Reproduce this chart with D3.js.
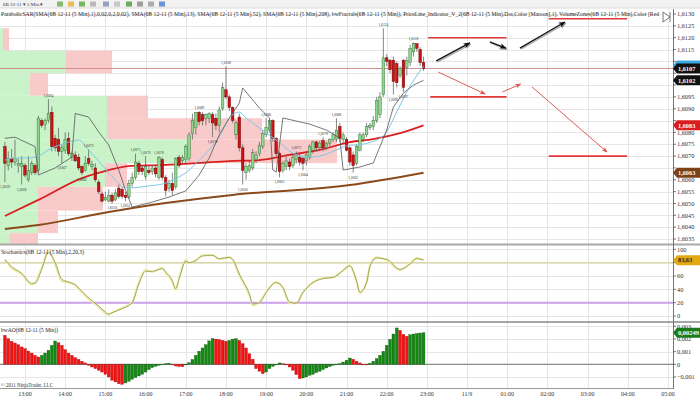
<!DOCTYPE html>
<html><head><meta charset="utf-8">
<script src="https://cdn.jsdelivr.net/npm/d3@7"></script>
<style>body{margin:0;background:#fff}svg{display:block}text{font-family:'Liberation Serif','Times New Roman',serif}</style>
</head><body><svg id="c" width="700" height="400"></svg>
<script>
// ---------- DATA ----------
const firstBar = "2011-11-08 12:30";
const barMinutes = 5;
const candleOpen = [1.6074,1.6066,1.6069,1.60675,1.6066,1.60655,1.6066,1.6060,1.6063,1.6066,
1.6064,1.6085,1.60835,1.6085,1.60885,1.60775,1.6077,1.6072,1.60725,1.60775,
1.60695,1.60705,1.60695,1.60655,1.6064,1.6069,1.60655,1.6065,1.6059,1.6054,
1.60515,1.6051,1.60535,1.60515,1.60565,1.6056,1.60535,1.60525,1.60585,1.6061,
1.6067,1.6065,1.60615,1.6064,1.60635,1.6065,1.6061,1.60685,1.6061,1.60565,
1.60585,1.6057,1.60695,1.6068,1.60685,1.6069,1.60795,1.6082,1.60885,1.60875,
1.6086,1.6086,1.60875,1.6086,1.6083,1.6090,1.6098,1.6095,1.60905,1.6079,
1.60865,1.60735,1.6063,1.6064,1.6065,1.60685,1.6071,1.6074,1.6079,1.6081,
1.6085,1.60775,1.6071,1.6064,1.60655,1.60675,1.6066,1.60685,1.60695,1.6069,
1.6068,1.60695,1.60725,1.6076,1.60735,1.60765,1.60735,1.60755,1.6077,1.6077,
1.60825,1.6077,1.6077,1.60735,1.60705,1.6067,1.60725,1.6077,1.6079,1.6082,
1.60825,1.6085,1.60875,1.6096,1.61115,1.61105,1.61105,1.6109,1.6104,1.61105,
1.61075,1.61095,1.6114,1.61175,1.6115,1.61095];
const candleHigh = [1.6076,1.6072,1.6073,1.6077,1.6069,1.6070,1.6067,1.6070,1.6068,1.6067,
1.6087,1.6086,1.6086,1.6094,1.6091,1.6079,1.6082,1.6075,1.6080,1.6080,
1.6072,1.6072,1.6071,1.6066,1.6070,1.6073,1.6068,1.6067,1.6060,1.6055,
1.6055,1.6056,1.60545,1.6056,1.6058,1.6057,1.6055,1.6060,1.6063,1.6071,
1.6068,1.6066,1.6070,1.6066,1.6066,1.6066,1.6070,1.60695,1.6062,1.6060,
1.6063,1.60695,1.60705,1.60705,1.6075,1.6080,1.6088,1.60885,1.6089,1.60885,
1.6088,1.60885,1.60885,1.6088,1.6091,1.6101,1.6108,1.6096,1.6091,1.6085,
1.6088,1.6075,1.6067,1.6068,1.6073,1.6072,1.6076,1.6081,1.6086,1.60855,
1.60855,1.6078,1.6072,1.6068,1.6070,1.6069,1.6071,1.6072,1.6071,1.6070,
1.60715,1.6075,1.60765,1.60765,1.60765,1.6078,1.6076,1.60775,1.6080,1.6086,
1.6084,1.6080,1.6078,1.6074,1.6072,1.6075,1.6080,1.6080,1.6084,1.6084,
1.6087,1.6095,1.6097,1.6124,1.6113,1.6111,1.6112,1.6110,1.6108,1.6111,
1.6112,1.6117,1.6118,1.61175,1.6116,1.6112];
const candleLow = [1.6059,1.6064,1.6065,1.6066,1.6063,1.6058,1.6061,1.6059,1.6062,1.6062,
1.6063,1.6082,1.6081,1.6084,1.6072,1.6072,1.6070,1.6067,1.6071,1.6070,
1.6068,1.60675,1.6064,1.6062,1.60635,1.6066,1.6064,1.6059,1.6054,1.60505,
1.6051,1.60505,1.6050,1.6051,1.6052,1.6052,1.6051,1.6052,1.6057,1.6060,
1.6062,1.6062,1.6060,1.6062,1.6062,1.6061,1.6060,1.6060,1.6053,1.6055,
1.60535,1.6056,1.6065,1.6067,1.6067,1.6068,1.6077,1.6079,1.6083,1.6083,
1.6083,1.6084,1.6078,1.6081,1.6080,1.6089,1.6094,1.6089,1.6084,1.6077,
1.6072,1.6058,1.6060,1.6063,1.6064,1.6067,1.6070,1.6073,1.6078,1.6080,
1.6076,1.6070,1.6061,1.6063,1.6064,1.6064,1.6065,1.6067,1.6066,1.6064,
1.6066,1.60685,1.6071,1.6072,1.60725,1.6072,1.60725,1.6074,1.6076,1.6076,
1.6076,1.60755,1.6072,1.6066,1.6063,1.6066,1.6072,1.6076,1.6078,1.6081,
1.6081,1.6084,1.6086,1.6095,1.6108,1.6105,1.6096,1.6099,1.6103,1.6097,
1.6104,1.6108,1.6112,1.6114,1.6108,1.6106];
const candleClose = [1.6067,1.6069,1.60675,1.6069,1.6067,1.6067,1.6062,1.6064,1.6067,1.6063,
1.6086,1.6083,1.6085,1.6088,1.6074,1.60735,1.6072,1.60735,1.6077,1.6071,
1.6071,1.6068,1.6065,1.6063,1.6067,1.6067,1.60665,1.6060,1.6055,1.6051,
1.60525,1.60535,1.6051,1.60545,1.6053,1.6053,1.60525,1.60585,1.6061,1.60675,
1.60635,1.60635,1.60655,1.6063,1.6065,1.60625,1.60695,1.6061,1.60555,1.60585,
1.60555,1.6069,1.6066,1.60695,1.6074,1.6079,1.6085,1.60885,1.60845,1.6085,
1.60875,1.6088,1.6084,1.6083,1.60895,1.6099,1.6095,1.60905,1.6085,1.6084,
1.60735,1.6064,1.60655,1.6066,1.60715,1.60705,1.60745,1.60795,1.6082,1.6085,
1.60775,1.6071,1.60635,1.6067,1.6068,1.60655,1.60695,1.60705,1.60675,1.6067,
1.60705,1.6074,1.6076,1.60735,1.60755,1.60735,1.60755,1.6077,1.6079,1.6081,
1.60775,1.6079,1.60725,1.60675,1.6066,1.6074,1.6079,1.6079,1.60825,1.6083,
1.6085,1.60935,1.6095,1.61115,1.6110,1.61065,1.61015,1.6101,1.6107,1.6099,
1.61105,1.61155,1.61175,1.61155,1.61095,1.6107];

const fractalHighBars = [13,25,39,42,46,58,66,78,87,95,99,113,122];
const fractalLowBars = [0,5,17,23,32,36,62,71,82,89,104,116,119];

const sarBars = [0,3,9,10,15,20,21,25,28,31,34,36,38,43,49,54,58,61,64,67,70,71,76,79,80,81,83,91,96,100,101,106,110,114,116,119,122,125];
const sarValues = [1.60775,1.6078,1.6074,1.6062,1.6065,1.60696,1.6088,1.60865,1.60802,1.60747,1.60641,1.60557,
1.60485,1.60502,1.60527,1.60553,1.6062,1.60692,1.60789,1.60861,1.60924,1.60988,1.60903,1.60861,1.60641,1.60633,
1.60861,1.60835,1.6081,1.60776,1.60641,1.60654,1.60671,1.6081,1.60907,1.60966,1.6100,1.6102];

const sma13Bars = [0,3,7,10,13,19,22,25,28,33,36,43,48,52,55,58,61,64,67,70,72,76,81,86,90,94,99,102,107,113,117,120,125];
const sma13Values = [1.60683,1.60692,1.60692,1.6070,1.60726,1.60759,1.60768,1.60726,1.60679,1.60599,1.60565,1.60574,1.60586,1.60612,1.60641,1.60683,1.60726,1.60781,1.60861,1.60886,1.60861,1.60819,1.60768,1.60713,1.60696,1.6070,1.60726,1.60743,1.60751,1.60785,1.60886,1.60971,1.6108];
const sma52Bars = [0,10,23,31,37,46,58,67,76,85,94,103,110,118,125];
const sma52Values = [1.60447,1.60515,1.60607,1.60641,1.60658,1.60662,1.60671,1.60679,1.60683,1.60705,1.60726,1.60759,1.60772,1.60797,1.6083];
const sma208Bars = [0,10,31,48,68,103,125];
const sma208Values = [1.60392,1.60409,1.60464,1.60502,1.60536,1.60578,1.6063];

const zoneHigh = [1.6124,1.61145,1.6105,1.60955,1.6086,1.6077,1.6067,1.6057,1.6047,1.60375];
const zoneLow = [1.61145,1.6105,1.60955,1.6086,1.6077,1.6067,1.6057,1.6047,1.60375,1.6028];
const zoneUpVolume = [30,660,300,1070,1070,1870,1050,380,380,100];
const zoneDownVolume = [60,460,180,410,1550,1500,220,650,200,280];

const stochBars = [0,2,5,8,9,11,13,15,17,19,21,23,26,28,30,31,32,35,38,40,42,44,47,48,50,51,52,54,55,57,59,62,64,67,68,70,73,74,76,78,81,83,85,87,89,92,95,98,101,103,105,106,108,109,111,114,118,121,123,125];
const stochK = [85,72,63,47,50,73,98,78,52,50,46,35,21,14,4,2,5,12,21,51,69,66,72,65,51,39,57,84,79,84,91,91,85,88,84,61,31,16,21,36,51,42,19,19,36,51,57,58,69,76,51,34,51,76,88,84,69,79,87,83.63];
const stochD = [84,74,64,49,49,70,95,80,55,51,47,37,23,15,6,3,5,11,20,48,67,67,71,66,53,41,55,82,80,83,90,91,86,88,85,63,33,18,20,35,50,43,21,19,35,50,56,58,68,75,53,36,50,74,87,85,70,78,86,84];
const stochLevels = [20, 80];

const aoValues = [0.00229,0.00203,0.00182,0.00168,0.00155,0.00137,0.00124,0.00105,0.00089,0.00071,
0.00058,0.00071,0.00089,0.00111,0.00150,0.00184,0.00170,0.00150,0.00116,0.00089,
0.00071,0.00053,0.00039,0.00024,0.00011,-0.00008,-0.00021,-0.00034,-0.00047,-0.00061,
-0.00079,-0.00100,-0.00126,-0.00139,-0.00153,-0.00158,-0.00147,-0.00134,-0.00118,-0.00105,
-0.00092,-0.00079,-0.00061,-0.00042,-0.00026,-0.00016,-0.00008,-0.00003,0.00005,0.00008,
-0.00003,-0.00013,-0.00018,-0.00019,-0.00003,0.00013,0.00039,0.00071,0.00103,0.00129,
0.00155,0.00185,0.00203,0.00199,0.00195,0.00189,0.00182,0.00189,0.00199,0.00203,
0.00189,0.00163,0.00129,0.00084,0.00040,-0.00034,-0.00055,-0.00074,-0.00061,-0.00034,
-0.00016,0.00000,0.00011,0.00005,-0.00003,-0.00021,-0.00047,-0.00082,-0.00113,-0.00108,
-0.00100,-0.00087,-0.00079,-0.00066,-0.00055,-0.00042,-0.00029,-0.00018,-0.00008,-0.00003,
0.00005,0.00018,0.00032,0.00050,0.00040,0.00024,0.00011,0.00000,-0.00005,0.00008,
0.00024,0.00045,0.00071,0.00103,0.00150,0.00197,0.00239,0.00287,0.00268,0.00237,
0.00221,0.00234,0.00239,0.00243,0.00247,0.00249];

const priceTicks = [1.6035,1.6040,1.6045,1.6050,1.6055,1.6060,1.6065,1.6070,1.6075,1.6080,1.6085,1.6090,1.6095,1.6100,1.6105,1.6110,1.6115,1.6120,1.6125,1.6130];
const stochTicks = [0,20,40,60,80,100];
const aoTicks = [-0.001,0,0.001,0.002,0.003];
const timeTicks = ["2011-11-08 13:00","2011-11-08 14:00","2011-11-08 15:00","2011-11-08 16:00","2011-11-08 17:00","2011-11-08 18:00","2011-11-08 19:00","2011-11-08 20:00","2011-11-08 21:00","2011-11-08 22:00","2011-11-08 23:00","2011-11-09 00:00","2011-11-09 01:00","2011-11-09 02:00","2011-11-09 03:00","2011-11-09 04:00","2011-11-09 05:00"];
const timeTickLabels = ["13:00","14:00","15:00","16:00","17:00","18:00","19:00","20:00","21:00","22:00","23:00","11/9","01:00","02:00","03:00","04:00","05:00"];

const hLineStart = ["2011-11-08 23:02","2011-11-09 02:02","2011-11-08 23:05","2011-11-09 02:02"];
const hLineEnd = ["2011-11-09 00:59","2011-11-09 03:59","2011-11-09 00:59","2011-11-09 03:59"];
const hLinePrice = [1.6120,1.6128,1.6095,1.6070];
const upArrowStart = ["2011-11-08 23:14","2011-11-09 00:34","2011-11-09 01:19"];
const upArrowStartPrice = [1.61102,1.61182,1.61156];
const upArrowEnd = ["2011-11-09 00:04","2011-11-09 00:58","2011-11-09 02:26"];
const upArrowEndPrice = [1.61178,1.61156,1.61266];
const downArrowStart = ["2011-11-08 23:17","2011-11-09 00:53","2011-11-09 01:37"];
const downArrowStartPrice = [1.61055,1.60971,1.60992];
const downArrowEnd = ["2011-11-09 00:27","2011-11-09 01:20","2011-11-09 03:29"];
const downArrowEndPrice = [1.60962,1.61004,1.60717];

const titleText = "ParabolicSAR(SMA(6B 12-11 (5 Min),1),0,02,0,2,0,02), SMA(6B 12-11 (5 Min),13), SMA(6B 12-11 (5 Min),52), SMA(6B 12-11 (5 Min),208), bwFractals(6B 12-11 (5 Min)), PriceLine_Indicator_V_2(6B 12-11 (5 Min),Dot,Color [Maroon],1), VolumeZones(6B 12-11 (5 Min),Color [Red";

// ---------- CHART ----------
const svg = d3.select('#c');
const parse = d3.timeParse("%Y-%m-%d %H:%M");
const t0 = parse(firstBar);
const barTime = i => new Date(t0.getTime() + i * barMinutes * 60000);
const AX = 673;
const x = d3.scaleTime().domain([parse("2011-11-08 13:00"), parse("2011-11-09 05:00")]).range([25, 668]);
const y = d3.scaleLinear().domain([1.6035, 1.6130]).range([239, 14]);
const ys = d3.scaleLinear().domain([0, 100]).range([316, 249.3]);
const ya = d3.scaleLinear().domain([-0.001, 0.003]).range([377, 326.3]);
const vol = d3.scaleLinear().domain([0, 6730]).range([0, 673]);
const comma = (f) => (v) => d3.format(f)(v).replace('.', ',');
const fmtP = comma('.4f');

const defs = svg.append('defs');
defs.append('clipPath').attr('id', 'cm').append('rect').attr('x', 0).attr('y', 8).attr('width', AX).attr('height', 236);
defs.append('clipPath').attr('id', 'cs').append('rect').attr('x', 0).attr('y', 246).attr('width', AX).attr('height', 75);
defs.append('clipPath').attr('id', 'ca').append('rect').attr('x', 0).attr('y', 323).attr('width', AX).attr('height', 65);
function mk(id, color, size) {
  defs.append('marker').attr('id', id).attr('viewBox', '0 0 10 10').attr('refX', 9).attr('refY', 5)
    .attr('markerWidth', size).attr('markerHeight', size).attr('orient', 'auto').attr('markerUnits', 'userSpaceOnUse')
    .append('path').attr('d', 'M0,1 L10,5 L0,9 L3,5 Z').attr('fill', color);
}
mk('ab', '#111', 7); mk('abs', '#999', 7); mk('ar', '#e05050', 6);

// toolbar
svg.append('rect').attr('x', 0).attr('y', 0).attr('width', 700).attr('height', 8).attr('fill', '#f2f2f2');
svg.append('line').attr('x1', 0).attr('x2', 700).attr('y1', 8).attr('y2', 8).attr('stroke', '#dcdcdc');
svg.append('text').attr('x', 3).attr('y', 6).attr('font-size', 5).attr('fill', '#333').attr('font-family', 'Liberation Sans')
  .text('6B 12-11  \u25BE   5 Min  \u25BE');
const iconX = [57, 68, 79, 90, 103, 114, 126, 137, 148, 159];
const iconC = ['#6aa84f', '#e0b030', '#58a838', '#aaaaaa', '#7a8fb0', '#bbbbbb', '#4a9a3a', '#8a8a8a', '#9a9a9a', '#4a7ad0'];
iconX.forEach((ix, k) => svg.append('rect').attr('x', ix).attr('y', 1.5).attr('width', 6).attr('height', 5).attr('fill', iconC[k]).attr('opacity', 0.8));

// grid
const gridG = svg.append('g').attr('stroke', '#e6e6e6').attr('stroke-width', 1);
timeTicks.forEach(t => { const xx = Math.round(x(parse(t))) + 0.5; gridG.append('line').attr('x1', xx).attr('x2', xx).attr('y1', 9).attr('y2', 388); });
priceTicks.forEach(p => { const yy = Math.round(y(p)) + 0.5; gridG.append('line').attr('x1', 0).attr('x2', AX).attr('y1', yy).attr('y2', yy); });
stochTicks.forEach(v => { const yy = Math.round(ys(v)) + 0.5; gridG.append('line').attr('x1', 0).attr('x2', AX).attr('y1', yy).attr('y2', yy); });
aoTicks.forEach(v => { const yy = Math.round(ya(v)) + 0.5; gridG.append('line').attr('x1', 0).attr('x2', AX).attr('y1', yy).attr('y2', yy); });

// main panel
const main = svg.append('g').attr('clip-path', 'url(#cm)');
zoneHigh.forEach((h, k) => {
  const y0 = y(h), y1 = y(zoneLow[k]);
  main.append('rect').attr('x', 0).attr('y', y0).attr('width', vol(zoneUpVolume[k])).attr('height', y1 - y0).attr('fill', '#c4f2c4').attr('opacity', 0.9);
  main.append('rect').attr('x', vol(zoneUpVolume[k])).attr('y', y0).attr('width', vol(zoneDownVolume[k])).attr('height', y1 - y0).attr('fill', '#f8c4c4').attr('opacity', 0.9);
});
const lastClose = candleClose[candleClose.length - 1];
main.append('line').attr('x1', 0).attr('x2', AX).attr('y1', y(lastClose)).attr('y2', y(lastClose)).attr('stroke', '#cf8f8f').attr('stroke-width', 1);

const lineOf = (bars, vals, curve, ysc) => d3.line().x((d, k) => x(barTime(bars[k]))).y((d) => ysc(d)).curve(curve)(vals);
main.append('path').attr('d', lineOf(sma208Bars, sma208Values, d3.curveMonotoneX, y)).attr('fill', 'none').attr('stroke', '#8b4a1c').attr('stroke-width', 2);
main.append('path').attr('d', lineOf(sma52Bars, sma52Values, d3.curveMonotoneX, y)).attr('fill', 'none').attr('stroke', '#d82020').attr('stroke-width', 1.8);

// candles
const cg = main.append('g');
candleOpen.forEach((o, i) => {
  const c = candleClose[i], cx = x(barTime(i));
  cg.append('line').attr('x1', cx).attr('x2', cx).attr('y1', y(candleHigh[i])).attr('y2', y(candleLow[i])).attr('stroke', '#555').attr('stroke-width', 0.7);
  const top = y(Math.max(o, c)), bot = y(Math.min(o, c));
  cg.append('rect').attr('x', cx - 1.3).attr('y', top).attr('width', 2.6).attr('height', Math.max(0.8, bot - top))
    .attr('fill', c >= o ? '#8ed88e' : '#cc1414').attr('stroke', c >= o ? '#3a6a3a' : '#600').attr('stroke-width', 0.45);
});
main.append('path').attr('d', lineOf(sma13Bars, sma13Values, d3.curveMonotoneX, y)).attr('fill', 'none').attr('stroke', '#7cc8e8').attr('stroke-width', 1);
main.append('path').attr('d', lineOf(sarBars, sarValues, d3.curveLinear, y)).attr('fill', 'none').attr('stroke', '#555').attr('stroke-width', 0.8);

// fractal labels
const fg = main.append('g').attr('font-size', 3.6).attr('fill', '#333').attr('text-anchor', 'middle').attr('font-family', 'Liberation Sans');
fractalHighBars.forEach(i => fg.append('text').attr('x', x(barTime(i))).attr('y', y(candleHigh[i]) - 2.5).text(fmtP(candleHigh[i])));
fractalLowBars.forEach(i => fg.append('text').attr('x', x(barTime(i))).attr('y', y(candleLow[i]) + 6).text(fmtP(candleLow[i])));

// drawings
hLinePrice.forEach((p, k) => main.append('line').attr('x1', x(parse(hLineStart[k]))).attr('x2', x(parse(hLineEnd[k])))
  .attr('y1', y(p)).attr('y2', y(p)).attr('stroke', '#e23a3a').attr('stroke-width', 1.6));
upArrowStart.forEach((s, k) => {
  const a = [x(parse(s)), y(upArrowStartPrice[k]), x(parse(upArrowEnd[k])), y(upArrowEndPrice[k])];
  main.append('line').attr('x1', a[0] + 1).attr('y1', a[1] + 1.2).attr('x2', a[2] + 1).attr('y2', a[3] + 1.2).attr('stroke', '#aaa').attr('stroke-width', 1.3).attr('marker-end', 'url(#abs)');
  main.append('line').attr('x1', a[0]).attr('y1', a[1]).attr('x2', a[2]).attr('y2', a[3]).attr('stroke', '#111').attr('stroke-width', 1.3).attr('marker-end', 'url(#ab)');
});
downArrowStart.forEach((s, k) => {
  const a = [x(parse(s)), y(downArrowStartPrice[k]), x(parse(downArrowEnd[k])), y(downArrowEndPrice[k])];
  main.append('line').attr('x1', a[0]).attr('y1', a[1]).attr('x2', a[2]).attr('y2', a[3]).attr('stroke', '#e05a5a').attr('stroke-width', 1).attr('marker-end', 'url(#ar)');
});

// title
svg.append('text').attr('x', 1).attr('y', 16).attr('font-size', 5.6).attr('fill', '#222')
  .attr('textLength', 658).attr('lengthAdjust', 'spacingAndGlyphs').text(titleText);
svg.append('rect').attr('x', 661).attr('y', 11).attr('width', 11).attr('height', 11).attr('fill', '#fff').attr('opacity', 0.7);
svg.append('path').attr('d', 'M663,12 L670,17 L663,22 Z M670,12 L670,22').attr('fill', 'none').attr('stroke', '#666').attr('stroke-width', 0.9);

// stochastics
const st = svg.append('g').attr('clip-path', 'url(#cs)');
st.append('line').attr('x1', 0).attr('x2', AX).attr('y1', ys(stochLevels[1])).attr('y2', ys(stochLevels[1])).attr('stroke', '#d4d48e').attr('stroke-width', 1);
st.append('line').attr('x1', 0).attr('x2', AX).attr('y1', ys(stochLevels[0])).attr('y2', ys(stochLevels[0])).attr('stroke', '#cfa2ee').attr('stroke-width', 2);
st.append('path').attr('d', lineOf(stochBars, stochK, d3.curveMonotoneX, ys)).attr('fill', 'none').attr('stroke', '#eaeaa4').attr('stroke-width', 2);
st.append('path').attr('d', lineOf(stochBars, stochD, d3.curveMonotoneX, ys)).attr('fill', 'none').attr('stroke', '#9c9c54').attr('stroke-width', 0.9);
svg.append('text').attr('x', 1).attr('y', 254).attr('font-size', 6).attr('fill', '#222').attr('textLength', 83).attr('lengthAdjust', 'spacingAndGlyphs').text('Stochastics(6B 12-11 (5 Min),2,20,3)');

// AO
const ao = svg.append('g').attr('clip-path', 'url(#ca)');
ao.append('line').attr('x1', 0).attr('x2', AX).attr('y1', ya(0)).attr('y2', ya(0)).attr('stroke', '#8a8a8a').attr('stroke-width', 1.3);
aoValues.forEach((v, i) => {
  const up = i > 0 && v > aoValues[i - 1];
  const cx = x(barTime(i));
  ao.append('rect').attr('x', cx - 1.4).attr('y', Math.min(ya(v), ya(0))).attr('width', 2.8).attr('height', Math.max(0.6, Math.abs(ya(v) - ya(0))))
    .attr('fill', up ? '#128a12' : '#f01414').attr('stroke', up ? '#0a4a0a' : '#a00').attr('stroke-width', 0.3);
});
svg.append('text').attr('x', 1).attr('y', 332).attr('font-size', 6).attr('fill', '#222').attr('textLength', 57).attr('lengthAdjust', 'spacingAndGlyphs').text('bwAO(6B 12-11 (5 Min))');
svg.append('text').attr('x', 1).attr('y', 387).attr('font-size', 5.5).attr('fill', '#333').attr('textLength', 52).attr('lengthAdjust', 'spacingAndGlyphs').attr('font-family', 'Liberation Sans').text('\u00A9 2011 NinjaTrader, LLC');

// separators and axis
svg.append('line').attr('x1', 0).attr('x2', 700).attr('y1', 244.5).attr('y2', 244.5).attr('stroke', '#a8a8a8').attr('stroke-width', 2);
svg.append('line').attr('x1', 0).attr('x2', 700).attr('y1', 322).attr('y2', 322).attr('stroke', '#888').attr('stroke-width', 1.6);
svg.append('line').attr('x1', 0).attr('x2', AX).attr('y1', 388.5).attr('y2', 388.5).attr('stroke', '#999').attr('stroke-width', 1);
svg.append('line').attr('x1', AX + 0.5).attr('x2', AX + 0.5).attr('y1', 9).attr('y2', 389).attr('stroke', '#777').attr('stroke-width', 1);

// value markers (tick labels they fully cover are left out, the partly covered ones stay below them)
const markerSpecs = [
  [y(sma13Values[sma13Values.length - 1]) - 0.5, fmtP(sma13Values[sma13Values.length - 1]), '#3aa8e0', '#fff'],
  [y(lastClose), fmtP(lastClose), '#111', '#fff'],
  [y(sarValues[sarValues.length - 1]), fmtP(sarValues[sarValues.length - 1]), '#111', '#fff'],
  [y(sma52Values[sma52Values.length - 1]), fmtP(sma52Values[sma52Values.length - 1]), '#d81e1e', '#fff'],
  [y(sma208Values[sma208Values.length - 1]), fmtP(sma208Values[sma208Values.length - 1]), '#7a4216', '#fff'],
  [ys(stochK[stochK.length - 1]), comma('.2f')(stochK[stochK.length - 1]), '#e2a812', '#222'],
  [ya(aoValues[aoValues.length - 1]), comma('.5f')(aoValues[aoValues.length - 1]), '#1c7a1c', '#fff', 21]
];
const covered = (yy) => markerSpecs.some(m => Math.abs(m[0] - yy) < 4.9);

const axG = svg.append('g').attr('font-size', 6.3).attr('fill', '#333');
function tick(yy, label) {
  axG.append('line').attr('x1', AX).attr('x2', AX + 3).attr('y1', yy).attr('y2', yy).attr('stroke', '#555').attr('stroke-width', 0.8);
  if (!covered(yy)) axG.append('text').attr('x', AX + 4).attr('y', yy + 2.2).text(label);
}
priceTicks.forEach(p => tick(y(p), fmtP(p)));
stochTicks.forEach(v => tick(ys(v), String(v)));
aoTicks.forEach(v => tick(ya(v), v === 0 ? '0' : comma('.3f')(v)));

timeTicks.forEach((t, k) => svg.append('text').attr('x', x(parse(t))).attr('y', 395.5).attr('font-size', 6).attr('fill', '#333').attr('text-anchor', 'middle').text(timeTickLabels[k]));

function marker(yy, label, fill, color, tl) {
  const g = svg.append('g');
  g.append('path').attr('d', `M${AX},${yy} L${AX + 4},${yy - 5} L700,${yy - 5} L700,${yy + 5} L${AX + 4},${yy + 5} Z`).attr('fill', fill);
  const t = g.append('text').attr('x', AX + 5).attr('y', yy + 2.2).attr('font-size', 6.3).attr('fill', color).attr('font-weight', 'bold').text(label);
  if (tl) t.attr('textLength', tl).attr('lengthAdjust', 'spacingAndGlyphs');
}
markerSpecs.forEach(m => marker(m[0], m[1], m[2], m[3], m[4]));
</script></body></html>
